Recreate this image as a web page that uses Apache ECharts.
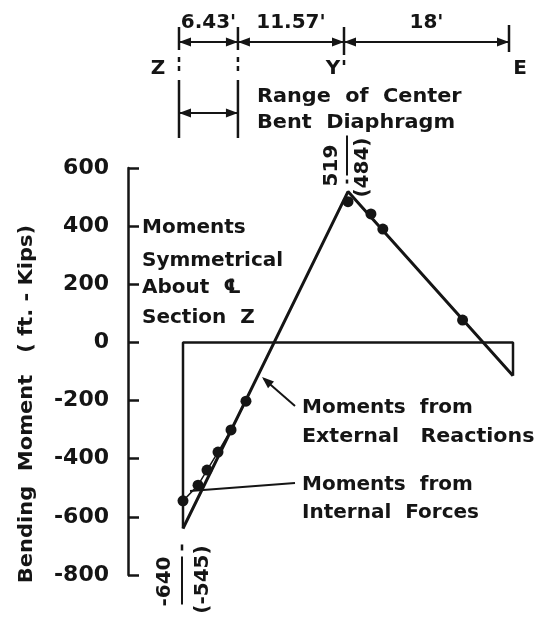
<!DOCTYPE html>
<html>
<head>
<meta charset="utf-8">
<script src="https://cdn.jsdelivr.net/npm/echarts@6/dist/echarts.min.js"></script>
<style>
  html, body { margin: 0; padding: 0; background: #fff; }
  #chart { width: 539px; height: 618px; }
</style>
</head>
<body>
<div id="chart"></div>
<script>
// stations along the girder, ft measured from section Z
const stations = [0, 6.43, 18, 36];
const stationNames = ['Z', '', 'Y', 'E'];
const spanLabels = ["6.43'", "11.57'", "18'"];
// moments from external reactions at Z, Y, E (ft-kips)
const extX = [0, 18, 36];
const extY = [-640, 519, -115];
// moments from internal forces (dots)
const intLeftX = [0, 1.64, 2.62, 3.82, 5.24, 6.87];
const intLeftY = [-545, -491, -439, -377, -301, -202];
const intRightX = [18, 20.5, 21.8, 30.5];
const intRightY = [484, 442, 390, 77];
const yTicks = [-800, -600, -400, -200, 0, 200, 400, 600];

const INK = '#151515';
const FONT = '"DejaVu Sans", sans-serif';

let chart = echarts.init(document.getElementById('chart'));

// outline of the external moment diagram: zero line plus the end verticals
const boxData = [
  [extX[0], extY[0]], [extX[0], 0], [extX[2], 0], [extX[2], extY[2]]
];
const extData = extX.map((x, i) => [x, extY[i]]);
const intLeft = intLeftX.map((x, i) => [x, intLeftY[i]]);
const intRight = intRightX.map((x, i) => [x, intRightY[i]]);

chart.setOption({
  animation: false,
  grid: { left: 128, right: 26, top: 168, bottom: 43 },
  xAxis: { type: 'value', min: -6, max: 36, show: false },
  yAxis: {
    type: 'value',
    min: yTicks[0],
    max: yTicks[yTicks.length - 1],
    interval: 200,
    axisLine: { show: true, onZero: false, lineStyle: { color: INK, width: 2.5 } },
    axisTick: { show: true, inside: true, length: 11, lineStyle: { color: INK, width: 2.5 } },
    splitLine: { show: false },
    axisLabel: { color: INK, fontSize: 22, fontWeight: 'bold', fontFamily: FONT, margin: 19 }
  },
  series: [
    {
      name: 'box',
      type: 'line',
      data: boxData,
      symbol: 'none',
      lineStyle: { color: INK, width: 2.5 }
    },
    {
      name: 'Moments from External Reactions',
      type: 'line',
      data: extData,
      symbol: 'none',
      lineStyle: { color: INK, width: 3 }
    },
    {
      name: 'Moments from Internal Forces',
      type: 'line',
      data: intLeft,
      symbol: 'circle',
      symbolSize: 11,
      itemStyle: { color: INK, opacity: 1 },
      lineStyle: { color: INK, width: 1.5 }
    },
    {
      name: 'Internal right',
      type: 'scatter',
      data: intRight,
      symbol: 'circle',
      symbolSize: 11,
      itemStyle: { color: INK, opacity: 1 }
    }
  ]
});

const px = v => chart.convertToPixel({ xAxisIndex: 0 }, v);
const py = v => chart.convertToPixel({ yAxisIndex: 0 }, v);

function txt(x, y, s, o) {
  o = o || {};
  return {
    type: 'text', x: x, y: y,
    rotation: o.rot || 0,
    scaleX: o.sx || 1,
    style: {
      text: s, fill: INK,
      font: 'bold ' + (o.size || 20) + 'px ' + FONT,
      align: o.align || 'left',
      verticalAlign: 'middle'
    }
  };
}
function seg(x1, y1, x2, y2, w) {
  return { type: 'line', shape: { x1, y1, x2, y2 }, style: { stroke: INK, lineWidth: w || 2 } };
}
// filled arrow head, tip at (x, y), pointing in direction (dx, dy)
function head(x, y, dx, dy) {
  const len = 12, hw = 4.5;
  const n = Math.sqrt(dx * dx + dy * dy);
  dx /= n; dy /= n;
  const bx = x - dx * len, by = y - dy * len;
  return {
    type: 'polygon',
    shape: { points: [[x, y], [bx - dy * hw, by + dx * hw], [bx + dy * hw, by - dx * hw]] },
    style: { fill: INK }
  };
}

let g = [];

// dimension line across the top
const dx = -4;
const sx = stations.map(s => px(s) + dx);
const yDim = 42;
for (let i = 0; i < spanLabels.length; i++) {
  g.push(seg(sx[i], yDim, sx[i + 1], yDim, 2));
  g.push(head(sx[i], yDim, -1, 0));
  g.push(head(sx[i + 1], yDim, 1, 0));
  g.push(txt((sx[i] + sx[i + 1]) / 2, 23, spanLabels[i], { align: 'center' }));
}
// Z and diaphragm lines run down past the range arrow
[0, 1].forEach(i => {
  g.push(seg(sx[i], 27, sx[i], 50, 2.5));
  g.push(seg(sx[i], 57, sx[i], 62, 2.5));
  g.push(seg(sx[i], 66, sx[i], 71, 2.5));
  g.push(seg(sx[i], 80, sx[i], 138, 2.5));
});
g.push(seg(sx[2], 27, sx[2], 55, 2.5));
g.push(seg(sx[2], 60, sx[2], 65, 2.5));
g.push(seg(sx[3], 25, sx[3], 52, 2.5));
g.push(txt(sx[0] - 21, 69, stationNames[0], { align: 'center' }));
g.push(txt(sx[2] - 11, 69, stationNames[2], { align: 'center' }));
g.push(txt(sx[3] + 11, 69, stationNames[3], { align: 'center' }));

// range of center bent diaphragm
g.push(seg(sx[0], 113, sx[1], 113, 2));
g.push(head(sx[0], 113, -1, 0));
g.push(head(sx[1], 113, 1, 0));
g.push(txt(sx[1] + 19, 97, 'Range  of  Center', { sx: 1.04 }));
g.push(txt(sx[1] + 19, 123, 'Bent  Diaphragm', { sx: 1.04 }));

// axis title
g.push(txt(27, 404, 'Bending  Moment   ( ft. - Kips)', { rot: Math.PI / 2, align: 'center', sx: 1.05 }));

// note
g.push(txt(142, 228, 'Moments'));
g.push(txt(142, 261, 'Symmetrical'));
g.push(txt(142, 288, 'About  \u2104'));
g.push(txt(142, 318, 'Section  Z'));

// peak values
const pk = [px(extX[1]), py(extY[1])];
g.push(txt(pk[0] - 16, pk[1] - 26, String(extY[1]), { rot: Math.PI / 2, align: 'center' }));
g.push(seg(pk[0] - 1, pk[1] - 56, pk[0] - 1, pk[1] - 16, 2));
g.push(seg(pk[0] - 1, pk[1] - 12, pk[0] - 1, pk[1] - 8, 2.5));
g.push(txt(pk[0] + 15, pk[1] - 24, '(' + intRightY[0] + ')', { rot: Math.PI / 2, align: 'center' }));

// values at Z
const zb = [px(extX[0]), py(extY[0])];
g.push(txt(zb[0] - 18, zb[1] + 53, String(extY[0]), { rot: Math.PI / 2, align: 'center' }));
g.push(seg(zb[0] - 1, zb[1] + 16, zb[0] - 1, zb[1] + 22, 2.5));
g.push(seg(zb[0] - 1, zb[1] + 28, zb[0] - 1, zb[1] + 76, 2));
g.push(txt(zb[0] + 20, zb[1] + 51, '(' + intLeftY[0] + ')', { rot: Math.PI / 2, align: 'center' }));

// leaders
g.push(seg(295, 406, 264, 379, 2));
g.push(head(262, 377, -33, -29));
g.push(txt(302, 408, 'Moments  from'));
g.push(txt(302, 437, 'External   Reactions', { sx: 1.03 }));
g.push(seg(295, 483, 190, 491, 2));
g.push(txt(302, 485, 'Moments  from'));
g.push(txt(302, 513, 'Internal  Forces'));

chart.setOption({ graphic: g });
</script>
</body>
</html>
